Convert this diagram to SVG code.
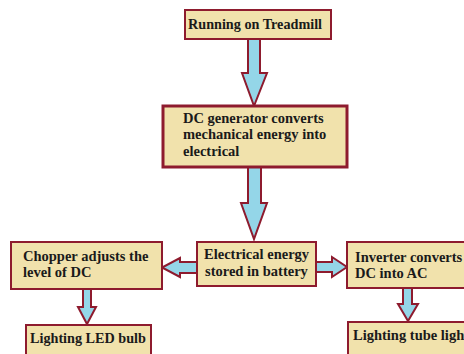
<svg xmlns="http://www.w3.org/2000/svg" width="464" height="354" viewBox="0 0 464 354">
<style>
.box{fill:#F1E2AC;stroke:#8E1B2E;stroke-width:2}
.thick{stroke-width:3}
.arr{fill:#94D6E8;stroke:#8E1B2E;stroke-width:2;stroke-linejoin:miter}
text{font-family:"Liberation Serif","Times New Roman",serif;font-weight:bold;font-size:14.5px;fill:#1a1a1a}
</style>
<rect width="464" height="354" fill="#ffffff"/>
<g id="connectors">
<path class="arr" d="M248,39 H260 V73 H267 L254,106 L242,73 H248 Z"/>
<path class="arr" d="M248,167 H261 V203 H267 L254,239 L241,203 H248 Z"/>
<path class="arr" d="M197,262 V273 H180 V277 L162,267.5 L180,258 V262 Z"/>
<path class="arr" d="M316,262 V272 H332 V277 L347,267 L332,257 V262 Z"/>
<path class="arr" d="M83,289 H91 V307 H96 L87,324 L78,307 H83 Z"/>
<path class="arr" d="M403,288 H412 V304 H418 L408,321 L398,304 H403 Z"/>
</g>
<g id="n1">
<rect class="box" x="185" y="10" width="146" height="29"/>
<text x="188" y="29" style="font-size:14.2px">Running on Treadmill</text>
</g>
<g id="n2">
<rect class="box thick" x="163" y="106" width="184" height="61"/>
<text x="183" y="123">DC generator converts</text>
<text x="183" y="139">mechanical energy into</text>
<text x="183" y="156">electrical</text>
</g>
<g id="n3">
<rect class="box" x="197" y="242" width="119" height="44"/>
<text x="204" y="259">Electrical energy</text>
<text x="205" y="276">stored in battery</text>
</g>
<g id="n4">
<rect class="box" x="11" y="242" width="151" height="47"/>
<text x="23" y="261">Chopper adjusts the</text>
<text x="23" y="277">level of DC</text>
</g>
<g id="n5">
<rect class="box" x="347" y="242" width="122" height="46"/>
<text x="355" y="262">Inverter converts</text>
<text x="355" y="278">DC into AC</text>
</g>
<g id="n6">
<rect class="box" x="26" y="325" width="125" height="34"/>
<text x="30" y="343" style="font-size:14.2px">Lighting LED bulb</text>
</g>
<g id="n7">
<rect class="box" x="348" y="322" width="122" height="37"/>
<text x="353" y="340">Lighting tube light</text>
</g>
</svg>
